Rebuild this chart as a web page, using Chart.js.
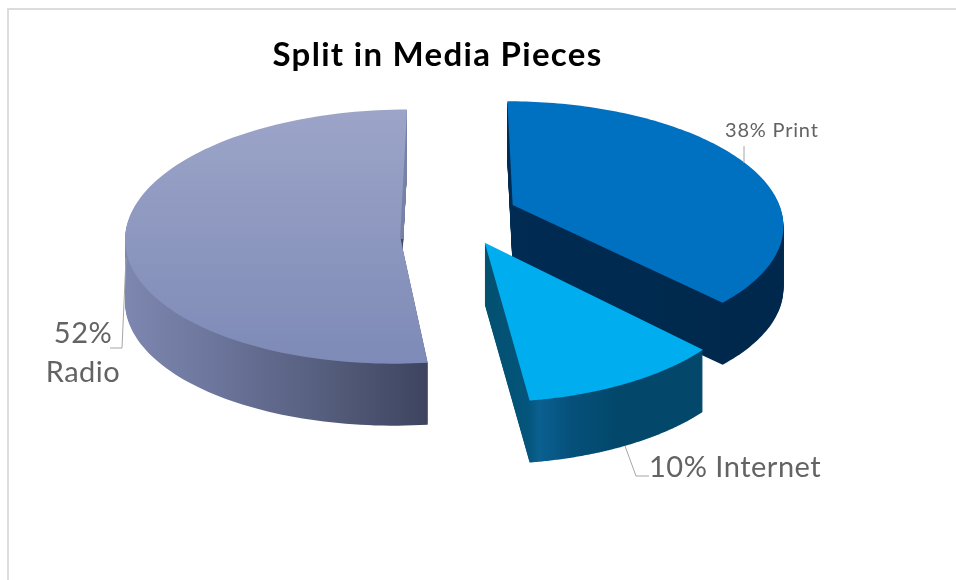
<!DOCTYPE html>
<html lang="en">
<head>
  <meta charset="UTF-8" />
  <title>Split in Media Pieces</title>
  <script src="https://cdn.jsdelivr.net/npm/chart.js"></script>
  <style>
    body { margin: 0; background: #fff; overflow: hidden; }
    canvas { display: block; }
  </style>
</head>
<body>
  <canvas id="mediaPie" width="956" height="580"></canvas>

  <script>
    // Chart data
    const categories = ['Print', 'Internet', 'Radio'];
    const shares = [38, 10, 52];
    const topColors = ['#0070c0', '#00adef', '#8e98c0'];
    const explode = [62, 70, 55];

    // View settings for the fake 3D look, one entry per slice
    const tilt = [0.434, 0.44, 0.462];
    const focal = [1835, 1143, 0];
    const skew = [0.022, 0.005, -0.025];
    const widen = [0.97, 0.95, 1];
    const drop = [0, 0, 20];
    const wallHeight = 62;
    const wallStops = [
      [[0, '#002b52'], [1, '#00284c']],
      [[0, '#03506f'], [0.2, '#04557c'], [0.25, '#0a6090'], [0.4, '#05507a'], [0.6, '#03486b'], [1, '#03486b']],
      [[0, '#7d87af'], [0.25, '#6f789f'], [0.6, '#596282'], [1, '#3e445f']]
    ];
    const drawOrder = [2, 0, 1];

    // Maps a polar point of a slice on to the tilted plane, h is the height below the top face
    function project(arc, i, angle, r, h) {
      const mid = (arc.startAngle + arc.endAngle) / 2;
      const off = arc.options.offset;
      const u = Math.cos(angle) * r * widen[i];
      const v = Math.sin(angle) * r;
      const s = focal[i] ? 1 / (1 - v / focal[i]) : 1;
      return {
        x: arc.x + Math.cos(mid) * off + (u + skew[i] * v) * s,
        y: arc.y + Math.sin(mid) * off * tilt[i] + drop[i] + v * tilt[i] * s + h
      };
    }

    function tracePath(ctx, arc, i, h) {
      const steps = 120;
      const apex = project(arc, i, arc.startAngle, 0, h);
      ctx.beginPath();
      ctx.moveTo(apex.x, apex.y);
      for (let n = 0; n <= steps; n++) {
        const a = arc.startAngle + (arc.endAngle - arc.startAngle) * n / steps;
        const p = project(arc, i, a, arc.outerRadius, h);
        ctx.lineTo(p.x, p.y);
      }
      ctx.closePath();
    }

    function sliceBounds(arc, i) {
      let minX = Infinity, maxX = -Infinity, minY = Infinity, maxY = -Infinity;
      for (let n = -1; n <= 120; n++) {
        const a = arc.startAngle + (arc.endAngle - arc.startAngle) * n / 120;
        const p = project(arc, i, a, n < 0 ? 0 : arc.outerRadius, 0);
        minX = Math.min(minX, p.x); maxX = Math.max(maxX, p.x);
        minY = Math.min(minY, p.y); maxY = Math.max(maxY, p.y);
      }
      return { minX, maxX, minY, maxY };
    }

    const pie3d = {
      id: 'pie3d',
      beforeDatasetsDraw(chart) {
        const ctx = chart.ctx;
        const arcs = chart.getDatasetMeta(0).data;
        drawOrder.forEach(i => {
          const arc = arcs[i];
          const box = sliceBounds(arc, i);

          // side walls, stacked from the bottom up
          const wall = ctx.createLinearGradient(box.minX, 0, box.maxX, 0);
          wallStops[i].forEach(([pos, color]) => wall.addColorStop(pos, color));
          ctx.fillStyle = wall;
          for (let h = wallHeight; h > 0; h--) {
            tracePath(ctx, arc, i, h);
            ctx.fill();
          }

          // the radio slice shows a lighter cut face on its upper edge
          if (i === 2) {
            const apex = project(arc, i, arc.startAngle, 0, 0);
            ctx.save();
            ctx.beginPath();
            ctx.rect(apex.x - 40, 0, 80, apex.y + 2);
            ctx.clip();
            ctx.fillStyle = '#7b84a9';
            for (let h = wallHeight; h > 0; h--) {
              tracePath(ctx, arc, i, h);
              ctx.fill();
            }
            ctx.restore();
          }

          // top face
          if (i === 2) {
            const shade = ctx.createLinearGradient(0, box.minY, 0, box.maxY);
            shade.addColorStop(0, '#9ca5c8');
            shade.addColorStop(1, '#7e8ab7');
            ctx.fillStyle = shade;
          } else {
            ctx.fillStyle = arc.options.backgroundColor;
          }
          tracePath(ctx, arc, i, 0);
          ctx.fill();
        });
        return false;
      },
      afterDraw(chart) {
        const ctx = chart.ctx;
        ctx.save();

        // frame along the top and left
        ctx.strokeStyle = '#dcdcdc';
        ctx.lineWidth = 2;
        ctx.beginPath();
        ctx.moveTo(8, 580);
        ctx.lineTo(8, 9);
        ctx.lineTo(956, 9);
        ctx.stroke();

        ctx.textBaseline = 'alphabetic';
        ctx.fillStyle = '#000';
        ctx.font = 'bold 33px Lato';
        ctx.letterSpacing = '1.3px';
        ctx.textAlign = 'center';
        ctx.fillText('Split in Media Pieces', 437.5, 66);

        // leader lines
        ctx.strokeStyle = '#a6a6a6';
        ctx.lineWidth = 1;
        ctx.beginPath();
        ctx.moveTo(744, 146); ctx.lineTo(744, 163);
        ctx.moveTo(625, 446); ctx.lineTo(636, 476); ctx.lineTo(649, 476);
        ctx.moveTo(126, 258); ctx.lineTo(122, 348); ctx.lineTo(110, 348);
        ctx.stroke();

        // slice labels
        ctx.fillStyle = '#636363';
        ctx.textAlign = 'left';
        ctx.font = '20px Lato';
        ctx.letterSpacing = '0.8px';
        ctx.fillText(shares[0] + '% ' + categories[0], 725, 137);
        ctx.font = '29px Lato';
        ctx.letterSpacing = '0.5px';
        ctx.fillText(shares[1] + '% ' + categories[1], 649, 477);
        ctx.textAlign = 'center';
        ctx.fillText(shares[2] + '%', 83, 343);
        ctx.fillText(categories[2], 83, 382);
        ctx.restore();
      }
    };

    new Chart(document.getElementById('mediaPie'), {
      type: 'pie',
      data: {
        labels: categories,
        datasets: [{
          data: shares,
          backgroundColor: topColors,
          offset: explode,
          borderWidth: 0
        }]
      },
      options: {
        responsive: false,
        animation: false,
        events: [],
        radius: 275,
        layout: { padding: { left: 0, top: 0, right: 46, bottom: 150 } },
        plugins: { legend: { display: false }, tooltip: { enabled: false } }
      },
      plugins: [pie3d]
    });
  </script>
</body>
</html>
